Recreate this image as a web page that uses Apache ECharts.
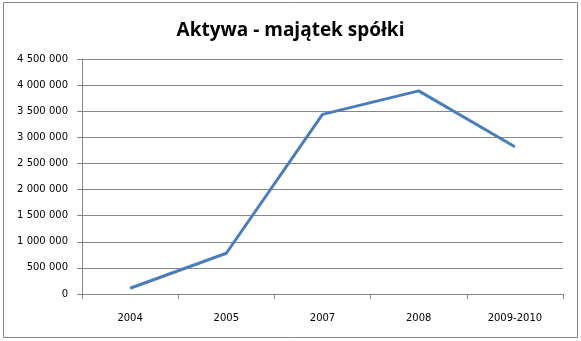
<!DOCTYPE html>
<html><head><meta charset="utf-8">
<script src="https://cdn.jsdelivr.net/npm/echarts@6/dist/echarts.min.js"></script>
<style>html,body{margin:0;padding:0;background:#fff}#c{width:581px;height:341px}</style>
</head><body><div id="c"></div>
<script>
var categories = ['2004', '2005', '2007', '2008', '2009-2010'];
var values = [110000, 780000, 3440000, 3890000, 2820000];
var titleText = 'Aktywa - majątek spółki';

function fmt(v){ return String(v).replace(/\B(?=(\d{3})+(?!\d))/g, ' '); }

var chart = echarts.init(document.getElementById('c'), null, {renderer:'canvas'});
chart.setOption({
  animation:false,
  backgroundColor:'#fff',
  graphic:[{type:'rect', shape:{x:3.5,y:2.5,width:574,height:335}, style:{fill:'none', stroke:'#878787', lineWidth:1}, silent:true}],
  title:{text:titleText, left:'center', top:16, textStyle:{fontFamily:'Open Sans', fontWeight:'bold', fontSize:19, color:'#000'}},
  grid:{left:82, right:18, top:59, bottom:47},
  xAxis:{type:'category', data:categories, boundaryGap:true,
    axisLine:{lineStyle:{color:'#868686', width:1}},
    axisTick:{show:true, length:5, lineStyle:{color:'#868686'}},
    axisLabel:{fontFamily:'DejaVu Sans', fontSize:10, color:'#000', margin:19}},
  yAxis:{type:'value', min:0, max:4500000, interval:500000,
    axisLine:{show:true, lineStyle:{color:'#868686'}},
    axisTick:{show:true, length:5, lineStyle:{color:'#868686'}},
    splitLine:{lineStyle:{color:'#868686', width:1}},
    axisLabel:{fontFamily:'DejaVu Sans', fontSize:10, color:'#000', margin:14, formatter:fmt}},
  series:[{type:'line', data:values, symbol:'none', lineStyle:{color:'#4A7EBB', width:3}}]
});
</script></body></html>
